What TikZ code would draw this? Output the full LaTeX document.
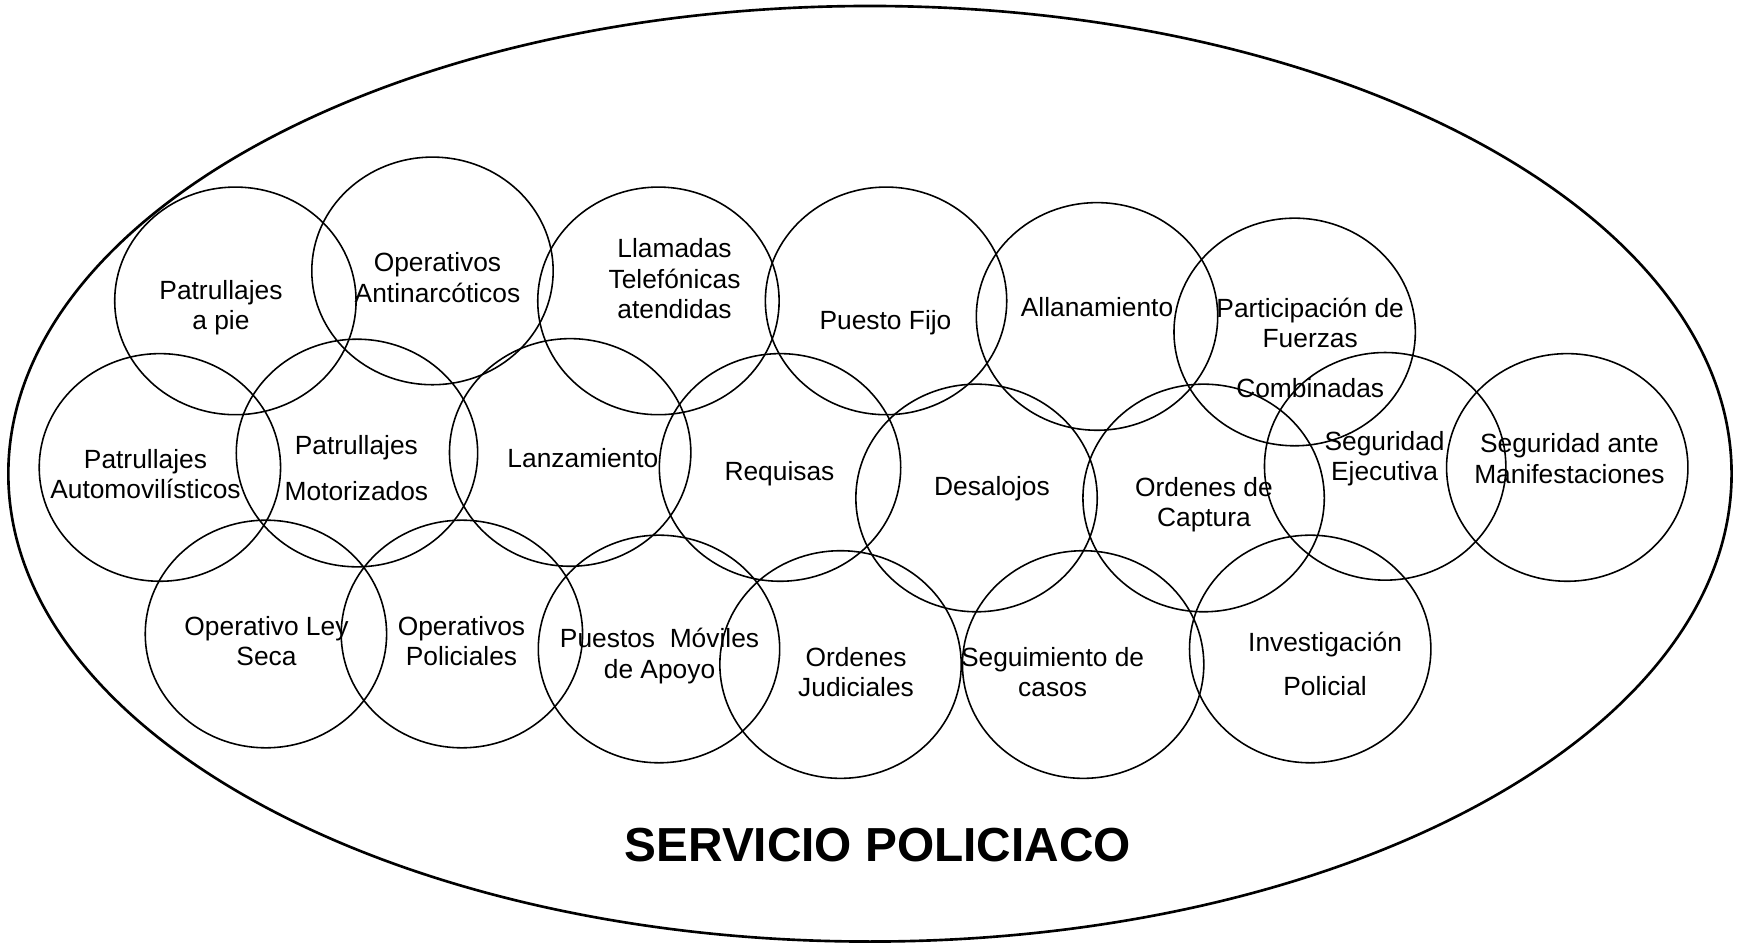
\documentclass[tikz,border=0pt]{standalone}
\usepackage{fontspec}
\setmainfont{Liberation Sans}

\begin{document}
\begin{tikzpicture}[x=0.011103cm,y=-0.011103cm,
    ring/.style={line width=0.45pt},
    lbl/.style={align=center,inner sep=0pt,yshift=-0.028cm,font=\fontsize{7.5}{8.6}\selectfont}]
  \useasboundingbox (0,0) rectangle (1568,850);
  % the big one
  \draw[line width=0.75pt] (783.5,426.7) ellipse [x radius=776, y radius=421.3];
  % the twenty small ones
  \foreach \cx/\cy in {212/271, 389.5/244, 593/271, 798/271, 988/285, 1166/299,
      144/421, 321.5/408, 513.5/407.5, 702.5/421, 879.5/448.5, 1084/448.5, 1247.5/420, 1411.5/421,
      239.5/571, 416/571, 593.5/584.5, 757/598.5, 975.5/598.5, 1180/584.5}
    \draw[ring] (\cx,\cy) ellipse [x radius=108.7, y radius=102.5];
  % top row
  \node[lbl] (pie) at (199,274.5) {Patrullajes\\a pie};
  \node[lbl] (anti) at (394,247.5) {Operativos\\Antinarcóticos};
  \node[lbl] (llam) at (607.5,248.5) {Llamadas\\Telefónicas\\atendidas};
  \node[lbl] (fijo) at (797.5,288) {Puesto Fijo};
  \node[lbl] (allan) at (988,274) {Allanamiento};
  \node[lbl] (fuer) at (1180,310.7) {Participación de\\Fuerzas\\[5.5pt]Combinadas};
  % middle row
  \node[lbl] (auto) at (131,424.5) {Patrullajes\\Automovilísticos};
  \node[lbl] (moto) at (321,418.8) {Patrullajes\\[4.6pt]Motorizados};
  \node[lbl] (lanz) at (525,410) {Lanzamiento};
  \node[lbl] (requ) at (702,424.2) {Requisas};
  \node[lbl] (desa) at (893.4,437.7) {Desalojos};
  \node[lbl] (capt) at (1084.3,451.8) {Ordenes de\\Captura};
  \node[lbl] (ejec) at (1247,410.5) {Seguridad\\Ejecutiva};
  \node[lbl] (mani) at (1413.5,410.5) {Seguridad ante\\Manifestaciones};
  % bottom row
  \node[lbl] (ley) at (240,575) {Operativo Ley\\Seca};
  \node[lbl] (poli) at (415.6,575) {Operativos\\Policiales};
  \node[lbl] (movil) at (594,588.4) {Puestos\ \ Móviles\\de Apoyo};
  \node[lbl] (judi) at (771,602.7) {Ordenes\\Judiciales};
  \node[lbl] (segu) at (948,602.7) {Seguimiento de\\casos};
  \node[lbl] (inve) at (1193.4,595.2) {Investigación\\[4pt]Policial};
  \node[font=\fontsize{13.6}{16}\selectfont\bfseries] (titulo) at (790.5,761.5) {SERVICIO POLICIACO};
\end{tikzpicture}
\end{document}
